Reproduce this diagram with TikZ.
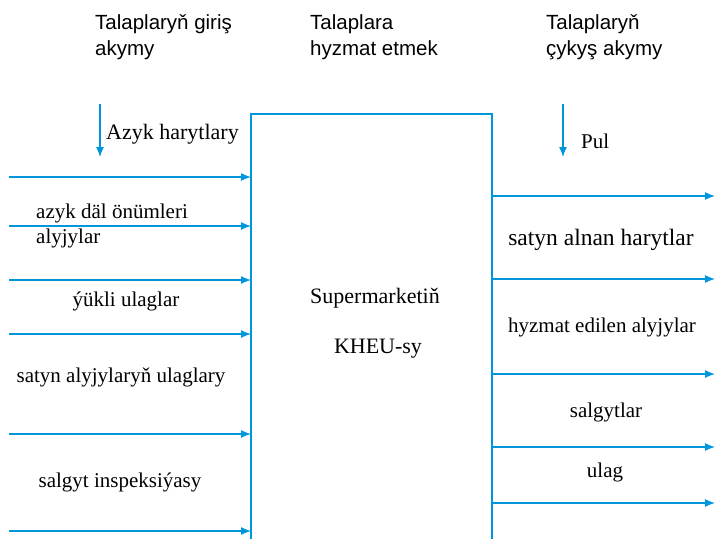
\documentclass[tikz,border=0pt]{standalone}
\usepackage{fontspec}
\setmainfont{Liberation Serif}
\newfontfamily\hsans{Liberation Sans}
\usetikzlibrary{arrows.meta}
\definecolor{flowblue}{RGB}{0,150,219}
\tikzset{
  flow/.style={draw=flowblue, line width=1.3pt, -{Latex[length=10pt,width=8pt]}},
  boxline/.style={draw=flowblue, line width=1.6pt},
  head/.style={font=\hsans\fontsize{20.5}{26}\selectfont, align=left, anchor=base west, inner sep=0pt},
  lab/.style={font=\fontsize{21}{25}\selectfont, anchor=base, inner sep=0pt},
  labw/.style={font=\fontsize{21}{25}\selectfont, anchor=base west, inner sep=0pt},
}
\begin{document}
\begin{tikzpicture}[x=1pt,y=-1pt]
\useasboundingbox (0,0) rectangle (716,539);
% box (open at bottom)
\coordinate (bsw) at (251,539);
\coordinate (bnw) at (251,114);
\coordinate (bne) at (492,114);
\coordinate (bse) at (492,539);
\draw[boxline] (bsw) -- (bnw) -- (bne) -- (bse);
% headings (base anchor = baseline of the last line)
\node[head] (h1) at (95,55) {Talaplaryň giriş\\akymy};
\node[head] (h2) at (310,55) {Talaplara\\hyzmat etmek};
\node[head] (h3) at (546,55) {Talaplaryň\\çykyş akymy};
% down arrows
\coordinate (d1a) at (100,104); \coordinate (d1b) at (100,157);
\coordinate (d2a) at (563,104); \coordinate (d2b) at (563,157);
\draw[flow] (d1a) -- (d1b);
\draw[flow] (d2a) -- (d2b);
\node[labw, font=\fontsize{22}{26}\selectfont] (azyk) at (106,139) {Azyk harytlary};
\node[labw] (pul) at (581,148) {Pul};
% left input arrows
\foreach \y [count=\i] in {177,226,280,334,434,531}{
  \coordinate (li\i) at (9,\y);
  \draw[flow] (li\i) -- (bnw |- li\i);
}
% right output arrows
\foreach \y [count=\i] in {196,279,374,447,503}{
  \coordinate (ro\i) at (715,\y);
  \draw[flow] (bne |- ro\i) -- (ro\i);
}
% left labels
\node[labw] (l1) at (36,218) {azyk däl önümleri};
\node[labw] (l2) at (36,243) {alyjylar};
\node[lab] (l3) at (126,306) {ýükli ulaglar};
\node[lab] (l4) at (121,382) {satyn alyjylaryň ulaglary};
\node[lab] (l5) at (120,487) {salgyt inspeksiýasy};
% right labels
\node[lab, font=\fontsize{23.5}{27}\selectfont] (r1) at (601,245) {satyn alnan harytlar};
\node[lab] (r2) at (602,332) {hyzmat edilen alyjylar};
\node[lab] (r3) at (606,417) {salgytlar};
\node[lab] (r4) at (605,477) {ulag};
% centre
\node[lab, font=\fontsize{22}{26}\selectfont] (c1) at (375,303) {Supermarketiň};
\node[lab, font=\fontsize{22}{26}\selectfont] (c2) at (378,353) {KHEU-sy};
\end{tikzpicture}
\end{document}
